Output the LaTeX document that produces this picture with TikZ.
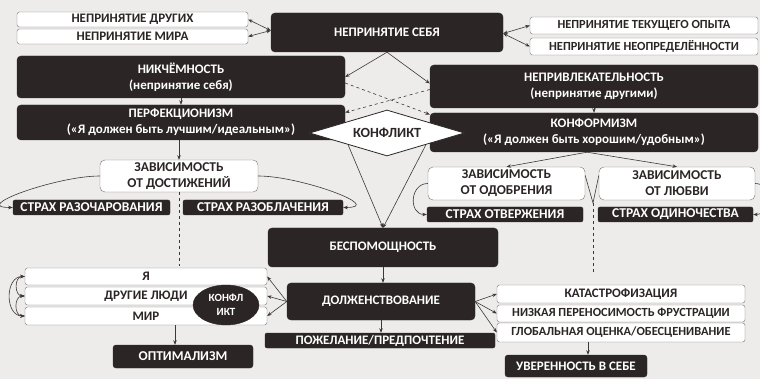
\documentclass[tikz,border=0pt]{standalone}
\usepackage{fontspec}
\setmainfont{Carlito}
\usetikzlibrary{arrows.meta,shapes.geometric,calc}
\definecolor{bgc}{RGB}{238,236,234}
\definecolor{dk}{RGB}{44,37,37}
\definecolor{bd}{RGB}{120,116,116}
\definecolor{ln}{RGB}{60,56,56}
\begin{document}
\begin{tikzpicture}[x=1pt,y=-1pt,
  dark/.style={fill=dk,draw=dk,rounded corners=4pt,text=white,font=\bfseries\fontsize{13}{16}\selectfont,inner sep=0pt,align=center},
  wbox/.style={fill=white,draw=bd,rounded corners=2.5pt,text=dk,font=\bfseries\fontsize{13}{16}\selectfont,inner sep=0pt,align=center},
  smallw/.style={font=\bfseries\fontsize{12.4}{15}\selectfont},
  bigt/.style={font=\bfseries\fontsize{13.5}{16}\selectfont},
  arr/.style={draw=ln,line width=0.6pt,-{Stealth[length=4.5pt,width=3.5pt]}},
  darr/.style={draw=ln,line width=0.6pt,{Stealth[length=4.5pt,width=3.5pt]}-{Stealth[length=4.5pt,width=3.5pt]}},
  dsh/.style={draw=ln,line width=0.6pt,dashed},
  pln/.style={draw=ln,line width=0.6pt},
]
\useasboundingbox (0,0) rectangle (760,379);
\fill[bgc] (0,0) rectangle (760,379);

% top row
\node[wbox,minimum width=231pt,minimum height=15pt] (ndr) at (132.5,19.5) {НЕПРИНЯТИЕ ДРУГИХ};
\node[wbox,minimum width=231pt,minimum height=15pt] (nmir) at (132.5,36.5) {НЕПРИНЯТИЕ МИРА};
\node[dark,minimum width=232pt,minimum height=39pt] (nself) at (387,32.5) {НЕПРИНЯТИЕ СЕБЯ};
\node[wbox,smallw,minimum width=228pt,minimum height=17pt] (nopyt) at (644,25.5) {НЕПРИНЯТИЕ ТЕКУЩЕГО ОПЫТА};
\node[wbox,smallw,minimum width=228pt,minimum height=17pt] (nneopr) at (644,46.5) {НЕПРИНЯТИЕ НЕОПРЕДЕЛЁННОСТИ};

% second/third rows
\node[dark,minimum width=328pt,minimum height=42pt] (nikch) at (181,77) {НИКЧЁМНОСТЬ\\(непринятие себя)};
\node[dark,minimum width=328pt,minimum height=43pt] (nepr) at (594,86.5) {НЕПРИВЛЕКАТЕЛЬНОСТЬ\\(непринятие другими)};
\node[dark,minimum width=328pt,minimum height=35pt] (perf) at (181,122.5) {ПЕРФЕКЦИОНИЗМ\\(«Я должен быть лучшим/идеальным»)};
\node[dark,minimum width=328pt,minimum height=39pt] (konf) at (594,132.5) {КОНФОРМИЗМ\\(«Я должен быть хорошим/удобным»)};

% connectors top
\draw[darr] ($(nself.west)+(0,-2)$) -- (ndr.east);
\draw[darr] ($(nself.west)+(0,-2)$) -- (nmir.east);
\draw[darr] ($(nself.east)+(0,1)$) -- (nopyt.west);
\draw[darr] ($(nself.east)+(0,1)$) -- (nneopr.west);
\draw[arr] (nself.south) -- (nikch.east);
\draw[arr] (nself.south) -- ($(nepr.west)+(0,-3)$);
\draw[dsh,-{Stealth[length=4.5pt,width=3.5pt]}] ($(nikch.east)+(0,6)$) -- ($(konf.west)+(0,-18)$);
\draw[dsh,-{Stealth[length=4.5pt,width=3.5pt]}] ($(nepr.west)+(0,3)$) -- ($(perf.east)+(0,-10)$);
\draw[arr] (nikch.south) -- (perf.north);
\draw[arr] (nepr.south) -- (konf.north);

% conflict diamond
\node[diamond,aspect=3.37,draw=dk,line width=0.8pt,fill=white,minimum width=155pt,minimum height=46pt,inner sep=0pt,text=dk,font=\bfseries\fontsize{14}{16}\selectfont] (dia) at (387,133) {КОНФЛИКТ};

% dependencies
\node[wbox,bigt,rounded corners=5pt,minimum width=158pt,minimum height=32pt] (zdost) at (179,176) {ЗАВИСИМОСТЬ\\ОТ ДОСТИЖЕНИЙ};
\node[dark,bigt,rounded corners=2pt,minimum width=157pt,minimum height=15pt] (sraz) at (91.5,207.5) {СТРАХ РАЗОЧАРОВАНИЯ};
\node[dark,bigt,rounded corners=2pt,minimum width=160pt,minimum height=15pt] (sobl) at (263,207.5) {СТРАХ РАЗОБЛАЧЕНИЯ};
\node[wbox,bigt,rounded corners=5pt,minimum width=157pt,minimum height=33pt] (zodob) at (506.5,183.5) {ЗАВИСИМОСТЬ\\ОТ ОДОБРЕНИЯ};
\node[wbox,bigt,rounded corners=5pt,minimum width=156pt,minimum height=33pt] (zlub) at (677,183.5) {ЗАВИСИМОСТЬ\\ОТ ЛЮБВИ};
\node[dark,bigt,rounded corners=2pt,minimum width=156pt,minimum height=15pt] (sotv) at (505,214.5) {СТРАХ ОТВЕРЖЕНИЯ};
\node[dark,bigt,rounded corners=2pt,minimum width=155pt,minimum height=15pt] (sodin) at (675.5,214.5) {СТРАХ ОДИНОЧЕСТВА};

\draw[arr] (perf.south -| zdost.north) -- (zdost.north);
\draw[arr] ($(konf.south)+(-7,0)$) -- (zodob.north);
\draw[arr] ($(konf.south)+(-7,0)$) -- (zlub.north);
\draw[arr] (zdost.west) to[out=180,in=180,looseness=1.2] (sraz.west);
\draw[arr] (zdost.east) to[out=0,in=0,looseness=1.2] (sobl.east);
\draw[arr] (zodob.west) to[out=180,in=180,looseness=1.5] (sotv.west);
\draw[arr] (zlub.east) to[out=0,in=0,looseness=1.5] (sodin.east);
\coordinate (vbot) at (593,203);
\draw[pln] ($(zodob.east)+(0,-8)$) -- (vbot) -- ($(zlub.west)+(0,-8)$);

% helplessness
\node[dark,minimum width=230pt,minimum height=39pt] (besp) at (383,247.5) {БЕСПОМОЩНОСТЬ};
\draw[arr] (dia.south west) -- (besp.north);
\draw[arr] (dia.south east) -- (besp.north);

% bottom
\node[dark,minimum width=188pt,minimum height=37pt] (dolzh) at (381,301.5) {ДОЛЖЕНСТВОВАНИЕ};
\node[dark,rounded corners=2pt,minimum width=230pt,minimum height=15pt] (pozh) at (380,340.5) {ПОЖЕЛАНИЕ/ПРЕДПОЧТЕНИЕ};
\node[wbox,minimum width=242pt,minimum height=17pt] (ya) at (146,276.5) {Я};
\node[wbox,minimum width=242pt,minimum height=18pt] (drug) at (146,296) {ДРУГИЕ ЛЮДИ};
\node[wbox,minimum width=242pt,minimum height=18pt] (mir) at (146,316) {МИР};
\node[ellipse,fill=dk,draw=dk,text=white,minimum width=66pt,minimum height=40pt,inner sep=0pt,align=center,font=\bfseries\fontsize{11}{14}\selectfont] (kell) at (226,305) {КОНФЛ\\ИКТ};
\node[dark,bigt,rounded corners=3pt,minimum width=140pt,minimum height=23pt] (opt) at (183,356.5) {ОПТИМАЛИЗМ};
\node[wbox,minimum width=248pt,minimum height=18pt] (kat) at (621,294) {КАТАСТРОФИЗАЦИЯ};
\node[wbox,smallw,minimum width=248pt,minimum height=17pt] (nizk) at (621,313.5) {НИЗКАЯ ПЕРЕНОСИМОСТЬ ФРУСТРАЦИИ};
\node[wbox,smallw,minimum width=248pt,minimum height=19pt] (glob) at (621,332.5) {ГЛОБАЛЬНАЯ ОЦЕНКА/ОБЕСЦЕНИВАНИЕ};
\node[dark,rounded corners=3pt,minimum width=142pt,minimum height=22pt] (uver) at (576,366) {УВЕРЕННОСТЬ В СЕБЕ};

\draw[dsh] (zdost.south) -- ($(zdost.south |- ya.north)+(0,-2)$);
\draw[dsh] (vbot) -- ($(vbot |- kat.north)+(0,-10)$);

\draw[arr] (besp.south) -- (besp.south |- dolzh.north);
\draw[arr] (dolzh.south) -- (dolzh.south |- pozh.north);
\draw[arr] (dolzh.west) -- (ya.east);
\draw[arr] (dolzh.west) -- (drug.east);
\draw[arr] (dolzh.west) -- (mir.east);
\draw[arr] (dolzh.east) -- (kat.west);
\draw[arr] (dolzh.east) -- (nizk.west);
\draw[arr] (dolzh.east) -- (glob.west);
\draw[darr] (ya.west) to[out=180,in=180,looseness=1.3] (mir.west);
\draw[darr] (ya.west) to[out=180,in=180,looseness=1.4] (drug.west);
\draw[darr] (drug.west) to[out=180,in=180,looseness=1.4] (mir.west);
\draw[arr] ($(opt.north |- mir.south)+(-8,0)$) -- ($(opt.north)+(-8,0)$);
\draw[arr] ($(uver.north |- glob.south)+(12,0)$) -- ($(uver.north)+(12,0)$);
\end{tikzpicture}
\end{document}
